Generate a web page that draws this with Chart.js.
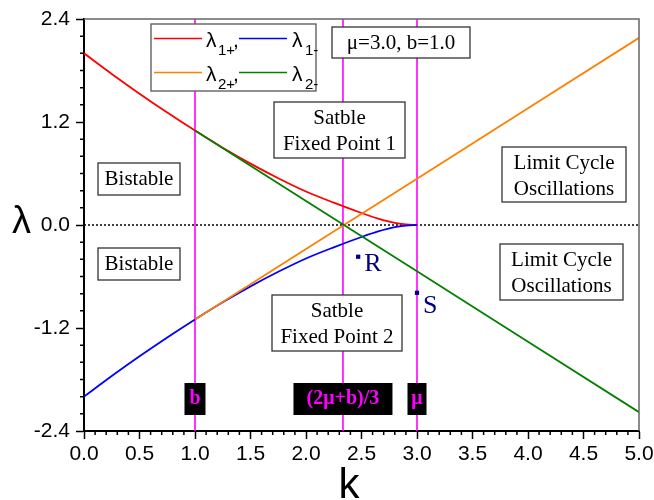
<!DOCTYPE html>
<html>
<head>
<meta charset="utf-8">
<script src="https://cdn.jsdelivr.net/npm/chart.js@4.4.0/dist/chart.umd.min.js"></script>
<style>
  html, body { margin: 0; padding: 0; background: #fff; }
  #wrap { width: 654px; height: 500px; }
</style>
</head>
<body>
<div id="wrap"><canvas id="myChart" width="654" height="500"></canvas></div>
<script>
// lambda1 branches (they meet at k = mu = 3)
const k1 = [0, 0.25, 0.5, 0.75, 1.0, 1.25, 1.5, 1.75, 2.0, 2.25, 2.5, 2.65, 2.8, 2.9, 3.0];
const lambda1Plus = [2.00, 1.76, 1.53, 1.31, 1.10, 0.90, 0.715, 0.545, 0.39, 0.26, 0.14, 0.075, 0.025, 0.008, 0.0];
const lambda1Minus = [-2.00, -1.76, -1.53, -1.31, -1.10, -0.90, -0.715, -0.545, -0.39, -0.26, -0.14, -0.075, -0.025, -0.008, 0.0];

// lambda2 branches (straight lines from k = b = 1)
const k2 = [1, 2, 3, 4, 5];
const lambda2Plus = [-1.10, -0.28, 0.54, 1.36, 2.18];
const lambda2Minus = [1.10, 0.28, -0.54, -1.36, -2.18];

// vertical markers
const markerK = [1, 2.333, 3];
const markerLabels = ['b', '(2\u03bc+b)/3', '\u03bc'];

// points R and S
const pointNames = ['R', 'S'];
const pointK = [2.47, 3.0];
const pointLambda = [-0.37, -0.79];

const xTicks = [0, 0.5, 1.0, 1.5, 2.0, 2.5, 3.0, 3.5, 4.0, 4.5, 5.0];
const xTickLabels = ['0.0', '0.5', '1.0', '1.5', '2.0', '2.5', '3.0', '3.5', '4.0', '4.5', '5.0'];
const yTicks = [-2.4, -1.2, 0, 1.2, 2.4];
const yTickLabels = ['-2.4', '-1.2', '0.0', '1.2', '2.4'];

const toXY = (xs, ys) => xs.map((x, i) => ({x: x, y: ys[i]}));

const SANS = '"Liberation Sans", Arial, sans-serif';
const SERIF = '"Liberation Serif", "Times New Roman", serif';

const datasets = [
  {data: toXY(k2, lambda2Minus), borderColor: '#008000', order: 1},
  {data: toXY(k2, lambda2Plus), borderColor: '#ff8000', order: 2},
  {data: toXY(k1, lambda1Minus), borderColor: '#0000ff', order: 3, cubicInterpolationMode: 'monotone'},
  {data: toXY(k1, lambda1Plus), borderColor: '#ff0000', order: 4, cubicInterpolationMode: 'monotone'},
  {data: [{x: 0, y: 0}, {x: 5, y: 0}], borderColor: '#000', borderWidth: 1.5, borderDash: [2, 2], order: 6},
  {
    data: toXY(pointK, pointLambda), showLine: false, pointRadius: 3, pointStyle: 'rect',
    backgroundColor: '#000080', borderColor: '#000080', borderWidth: 0, order: 0
  }
];
markerK.forEach((k) => {
  datasets.push({data: [{x: k, y: -2.4}, {x: k, y: 2.4}], borderColor: '#ff00ff', borderWidth: 1.6, order: 5});
});

function box(ctx, x1, y1, x2, y2, lines, ys, cx) {
  ctx.fillStyle = '#fff';
  ctx.fillRect(x1, y1, x2 - x1, y2 - y1);
  ctx.strokeStyle = '#333';
  ctx.lineWidth = 1.3;
  ctx.strokeRect(x1, y1, x2 - x1, y2 - y1);
  ctx.fillStyle = '#000';
  ctx.font = '21px ' + SERIF;
  ctx.textAlign = 'center';
  ctx.textBaseline = 'middle';
  lines.forEach((t, i) => ctx.fillText(t, cx, ys[i]));
}

const extras = {
  id: 'extras',
  afterDraw(chart) {
    const {ctx, chartArea: a, scales: {x, y}} = chart;
    ctx.save();

    // top / right frame
    ctx.strokeStyle = '#666';
    ctx.lineWidth = 1.5;
    ctx.beginPath();
    ctx.moveTo(a.left, a.top);
    ctx.lineTo(a.right, a.top);
    ctx.lineTo(a.right, a.bottom);
    ctx.stroke();

    // minor ticks
    ctx.strokeStyle = '#000';
    ctx.lineWidth = 1.5;
    ctx.beginPath();
    for (let i = 0; i <= 50; i++) {
      if (i % 5 === 0) continue;
      const px = x.getPixelForValue(i / 10);
      ctx.moveTo(px, a.bottom);
      ctx.lineTo(px, a.bottom + 4);
    }
    for (let i = -12; i <= 12; i++) {
      if (i % 6 === 0) continue;
      const py = y.getPixelForValue(i / 5);
      ctx.moveTo(a.left - 4, py);
      ctx.lineTo(a.left, py);
    }
    ctx.stroke();

    // region boxes
    box(ctx, 98, 163, 180, 195, ['Bistable'], [179], 139);
    box(ctx, 98, 248, 180, 280, ['Bistable'], [264], 139);
    box(ctx, 274, 102, 405, 158, ['Satble', 'Fixed Point 1'], [118, 144], 339.5);
    box(ctx, 272, 295, 402, 351, ['Satble', 'Fixed Point 2'], [311, 337], 337);
    box(ctx, 502, 147, 626, 202, ['Limit Cycle', 'Oscillations'], [163, 189], 564);
    box(ctx, 500, 244, 623, 300, ['Limit Cycle', 'Oscillations'], [260, 286], 561.5);
    box(ctx, 332, 27, 470, 58, ['\u03bc=3.0, b=1.0'], [43], 401);

    // marker labels on black
    const widths = [21, 99, 19];
    ctx.font = 'bold 20px ' + SERIF;
    ctx.textAlign = 'center';
    ctx.textBaseline = 'middle';
    markerK.forEach((k, i) => {
      const px = x.getPixelForValue(k);
      ctx.fillStyle = '#000';
      ctx.fillRect(px - widths[i] / 2, 383, widths[i], 32);
      ctx.fillStyle = '#ff00ff';
      ctx.fillText(markerLabels[i], px, 399);
    });

    // R / S labels
    ctx.fillStyle = '#000080';
    ctx.font = '26px ' + SERIF;
    ctx.textAlign = 'left';
    ctx.textBaseline = 'middle';
    pointNames.forEach((n, i) => {
      const px = x.getPixelForValue(pointK[i]);
      const py = y.getPixelForValue(pointLambda[i]);
      ctx.fillText(n, px + 6, py + (i === 0 ? 7 : 13));
    });

    // legend
    ctx.fillStyle = '#fff';
    ctx.fillRect(151, 24, 165, 67);
    ctx.strokeStyle = '#555';
    ctx.lineWidth = 1.3;
    ctx.strokeRect(151, 24, 165, 67);
    const rows = [
      {y: 38.5, c1: '#ff0000', c2: '#0000ff', s1: '1+', s2: '1-'},
      {y: 72.5, c1: '#ff8000', c2: '#008000', s1: '2+', s2: '2-'}
    ];
    ctx.textBaseline = 'alphabetic';
    rows.forEach((r) => {
      ctx.lineWidth = 1.5;
      ctx.strokeStyle = r.c1;
      ctx.beginPath(); ctx.moveTo(154, r.y); ctx.lineTo(202, r.y); ctx.stroke();
      ctx.strokeStyle = r.c2;
      ctx.beginPath(); ctx.moveTo(239, r.y); ctx.lineTo(287, r.y); ctx.stroke();
      ctx.fillStyle = '#000';
      ctx.font = '21px ' + SANS;
      ctx.fillText('\u03bb', 206, r.y + 8.5);
      ctx.fillText(',', 233, r.y + 8.5);
      ctx.fillText('\u03bb', 292, r.y + 8.5);
      ctx.font = '15px ' + SANS;
      ctx.fillText(r.s1, 218, r.y + 16);
      ctx.fillText(r.s2, 305, r.y + 16);
    });

    // axis titles
    ctx.fillStyle = '#000';
    ctx.font = '38px ' + SANS;
    ctx.textAlign = 'left';
    ctx.fillText('\u03bb', 12, 233);
    ctx.font = '42px ' + SANS;
    ctx.textAlign = 'center';
    ctx.fillText('k', 349, 498);

    ctx.restore();
  }
};

new Chart(document.getElementById('myChart'), {
  type: 'scatter',
  data: {datasets: datasets.map((d) => Object.assign({showLine: true, pointRadius: 0, borderWidth: 1.8, fill: false}, d))},
  options: {
    responsive: false,
    devicePixelRatio: 1,
    animation: false,
    layout: {padding: {top: 19, right: 15, left: 0, bottom: 0}},
    plugins: {legend: {display: false}, tooltip: {enabled: false}},
    scales: {
      x: {
        type: 'linear', min: 0, max: 5,
        afterBuildTicks: (s) => { s.ticks = xTicks.map((v) => ({value: v})); },
        afterFit: (s) => { s.height = 69; s.paddingLeft = 0; s.paddingRight = 0; },
        ticks: {
          autoSkip: false, maxRotation: 0, padding: 3, color: '#000',
          font: {family: SANS, size: 21},
          callback: (v, i) => xTickLabels[i]
        },
        grid: {drawOnChartArea: false, tickLength: 8, tickWidth: 1.5, tickColor: '#000'},
        border: {color: '#000', width: 2}
      },
      y: {
        type: 'linear', min: -2.4, max: 2.4,
        afterBuildTicks: (s) => { s.ticks = yTicks.map((v) => ({value: v})); },
        afterFit: (s) => { s.width = 84; s.paddingTop = 0; s.paddingBottom = 0; },
        ticks: {
          autoSkip: false, padding: 6, color: '#000',
          font: {family: SANS, size: 21},
          callback: (v, i) => yTickLabels[i]
        },
        grid: {drawOnChartArea: false, tickLength: 8, tickWidth: 1.5, tickColor: '#000'},
        border: {color: '#000', width: 2}
      }
    }
  },
  plugins: [extras]
});
</script>
</body>
</html>
